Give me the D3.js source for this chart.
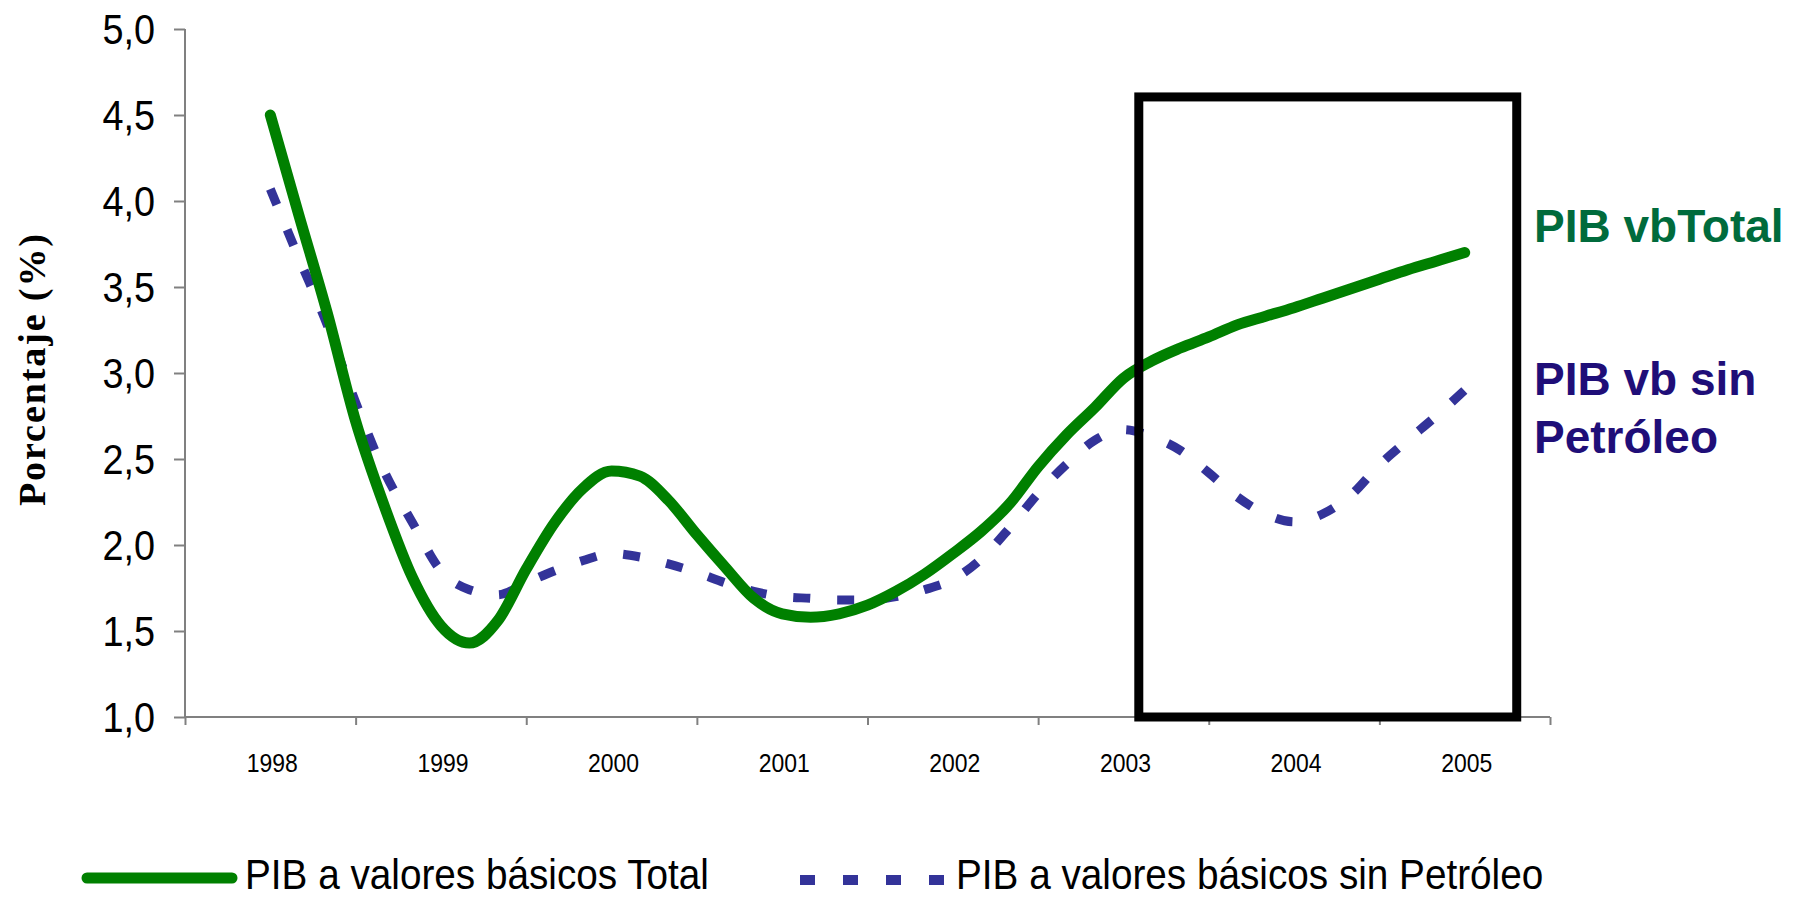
<!DOCTYPE html>
<html>
<head>
<meta charset="utf-8">
<script src="https://cdn.jsdelivr.net/npm/d3@7"></script>
<style>
  html, body { margin: 0; padding: 0; background: #fff; }
  svg { display: block; }
</style>
</head>
<body>
<script>
// Category years on the x axis
const years = [1998, 1999, 2000, 2001, 2002, 2003, 2004, 2005];

// Sampling positions (every two months) from the start of 1998 to the start of 2005
const periods = d3.range(0, 43).map(i => 1998 + i / 6);

// PIB a valores básicos, total (%)
const pibTotal = [
  4.50, 3.92, 3.35, 2.72, 2.23, 1.81, 1.53, 1.43, 1.56, 1.86, 2.13, 2.33,
  2.43, 2.40, 2.26, 2.06, 1.87, 1.69, 1.60, 1.58, 1.60, 1.65, 1.73, 1.83,
  1.95, 2.08, 2.24, 2.455, 2.64, 2.80, 2.97, 3.07, 3.145, 3.21, 3.28, 3.33,
  3.38, 3.435, 3.49, 3.545, 3.60, 3.65, 3.70
];

// PIB a valores básicos sin petróleo (%)
const pibSinPetroleo = [
  4.07, 3.67, 3.28, 2.83, 2.43, 2.13, 1.85, 1.74, 1.71, 1.78, 1.85, 1.91,
  1.95, 1.93, 1.89, 1.84, 1.78, 1.73, 1.70, 1.69, 1.68, 1.68, 1.70, 1.74,
  1.80, 1.92, 2.10, 2.30, 2.47, 2.61, 2.67, 2.63, 2.55, 2.42, 2.28, 2.18,
  2.135, 2.18, 2.29, 2.465, 2.61, 2.75, 2.90
];

// Y axis ticks
const yTicks = [1.0, 1.5, 2.0, 2.5, 3.0, 3.5, 4.0, 4.5, 5.0];

// Highlighted period (box) in data units
const boxRange = { from: 2003.09, to: 2005.305, top: 4.605, bottom: 1.0 };

const W = 1799, H = 898;
const GREEN = "#008000", BLUE = "#333399";
const LABEL_GREEN = "#006B3C", LABEL_BLUE = "#1F0E78";
const SANS = "'Liberation Sans', Arial, sans-serif";

const svg = d3.select("body").append("svg").attr("width", W).attr("height", H);

const x = d3.scaleLinear().domain([1997.5, 2005.5]).range([185, 1550]);
const band = d3.scaleBand().domain(years).range([185, 1550]).padding(0);
const y = d3.scaleLinear().domain([1, 5]).range([717, 29]);

// Horizontally narrowed sans text
function narrow(sel, k) {
  sel.each(function () {
    const w = this.getComputedTextLength();
    d3.select(this).attr("textLength", w * k).attr("lengthAdjust", "spacingAndGlyphs");
  });
}

// Y axis
const yAxis = svg.append("g")
  .attr("transform", `translate(${x(1997.5)},0)`)
  .call(d3.axisLeft(y).tickValues(yTicks).tickSize(11).tickFormat(""));
yAxis.select(".domain").attr("stroke", "#808080").attr("stroke-width", 2)
  .attr("d", `M0,${y(5)}V${y(1)}`);
yAxis.selectAll(".tick line").attr("stroke", "#808080").attr("stroke-width", 2);

svg.append("g").selectAll("text").data(yTicks).join("text")
  .attr("x", 155).attr("y", d => y(d) + 15)
  .attr("text-anchor", "end")
  .attr("font-family", SANS).attr("font-size", 42).attr("fill", "#000")
  .text(d => d.toFixed(1).replace(".", ","))
  .call(narrow, 0.9);

// X axis: ticks on category boundaries
const boundaries = d3.range(0, years.length + 1).map(i => 1997.5 + i);
const xAxis = svg.append("g")
  .attr("transform", `translate(0,${y(1)})`)
  .call(d3.axisBottom(x).tickValues(boundaries).tickSize(8).tickFormat(""));
xAxis.select(".domain").attr("stroke", "#808080").attr("stroke-width", 2)
  .attr("d", `M${x(1997.5)},0H${x(2005.5)}`);
xAxis.selectAll(".tick line").attr("stroke", "#808080").attr("stroke-width", 2);

svg.append("g").selectAll("text").data(years).join("text")
  .attr("x", d => band(d) + band.bandwidth() / 2 + 2)
  .attr("y", 772)
  .attr("text-anchor", "middle")
  .attr("font-family", SANS).attr("font-size", 25.5).attr("fill", "#000")
  .text(d => d)
  .call(narrow, 0.9);

// Y axis title
svg.append("text")
  .attr("transform", "translate(45,370) rotate(-90)")
  .attr("text-anchor", "middle")
  .attr("font-family", "'Liberation Serif', 'Times New Roman', serif")
  .attr("font-weight", "bold").attr("font-size", 38)
  .attr("textLength", 272).attr("lengthAdjust", "spacing")
  .text("Porcentaje (%)");

// Lines
const line = d3.line().x((d, i) => x(periods[i])).y(d => y(d)).curve(d3.curveMonotoneX);

svg.append("path").datum(pibSinPetroleo)
  .attr("d", line).attr("fill", "none")
  .attr("stroke", BLUE).attr("stroke-width", 9)
  .attr("stroke-dasharray", "17 27").attr("stroke-linecap", "butt");

svg.append("path").datum(pibTotal)
  .attr("d", line).attr("fill", "none")
  .attr("stroke", GREEN).attr("stroke-width", 11)
  .attr("stroke-linecap", "round").attr("stroke-linejoin", "round");

// Highlight box
svg.append("rect")
  .attr("x", x(boxRange.from)).attr("y", y(boxRange.top))
  .attr("width", x(boxRange.to) - x(boxRange.from))
  .attr("height", y(boxRange.bottom) - y(boxRange.top))
  .attr("fill", "none").attr("stroke", "#000").attr("stroke-width", 9);

// Series labels on the right
svg.append("text")
  .attr("x", 1534).attr("y", 242)
  .attr("font-family", SANS).attr("font-weight", "bold").attr("font-size", 46)
  .attr("fill", LABEL_GREEN).text("PIB vbTotal");

const blueLabel = svg.append("text")
  .attr("font-family", SANS).attr("font-weight", "bold").attr("font-size", 46)
  .attr("fill", LABEL_BLUE);
blueLabel.append("tspan").attr("x", 1534).attr("y", 395).text("PIB vb sin");
blueLabel.append("tspan").attr("x", 1534).attr("y", 453).text("Petróleo");

// Legend
const legendY = 878;
svg.append("line")
  .attr("x1", 87).attr("x2", 232).attr("y1", legendY).attr("y2", legendY)
  .attr("stroke", GREEN).attr("stroke-width", 11).attr("stroke-linecap", "round");
svg.append("text")
  .attr("x", 245).attr("y", 889)
  .attr("font-family", SANS).attr("font-size", 43).attr("fill", "#000")
  .text("PIB a valores básicos Total")
  .call(narrow, 0.9);

svg.append("line")
  .attr("x1", 800).attr("x2", 945).attr("y1", legendY + 2).attr("y2", legendY + 2)
  .attr("stroke", BLUE).attr("stroke-width", 10)
  .attr("stroke-dasharray", "15 28");
svg.append("text")
  .attr("x", 956).attr("y", 889)
  .attr("font-family", SANS).attr("font-size", 43).attr("fill", "#000")
  .text("PIB a valores básicos sin Petróleo")
  .call(narrow, 0.9);
</script>
</body>
</html>
